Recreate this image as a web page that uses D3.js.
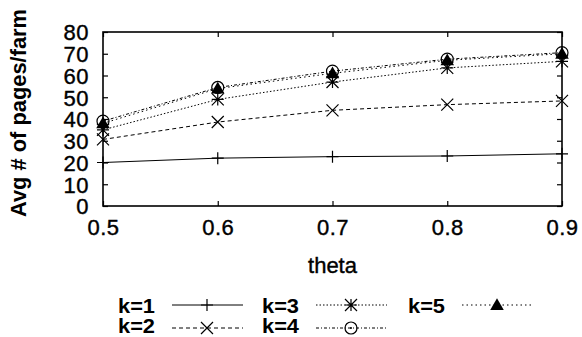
<!DOCTYPE html>
<html>
<head>
<script src="https://d3js.org/d3.v7.min.js"></script>
<style>
  body { margin: 0; background: #fff; }
  text { font-family: "Liberation Sans", Arial, sans-serif; fill: #000; }
</style>
</head>
<body>
<svg id="plot" width="582" height="337"></svg>
<script>
const thetas = [0.5, 0.6, 0.7, 0.8, 0.9];
const k1 = [20, 22, 22.7, 23, 24];
const k2 = [30.6, 38.6, 44, 46.6, 48.3];
const k3 = [35, 49, 57, 63.5, 66.5];
const k4 = [39, 54.5, 62, 67.5, 70.5];
const k5 = [38, 54, 61, 67, 70];
const yTicks = [0, 10, 20, 30, 40, 50, 60, 70, 80];
const seriesNames = ["k=1", "k=2", "k=3", "k=4", "k=5"];

const svg = d3.select('#plot');
const x = d3.scaleLinear().domain([0.5, 0.9]).range([103, 562]);
const y = d3.scaleLinear().domain([0, 80]).range([206, 32]);

const series = [
  {name: seriesNames[0], vals: k1, dash: null, marker: 'plus'},
  {name: seriesNames[1], vals: k2, dash: '4,3', marker: 'cross'},
  {name: seriesNames[2], vals: k3, dash: '1.5,2', marker: 'star'},
  {name: seriesNames[3], vals: k4, dash: '3,2,1,2', marker: 'circle'},
  {name: seriesNames[4], vals: k5, dash: '1.5,3', marker: 'triangle'}
];

// frame
svg.append('rect')
  .attr('x', x(0.5)).attr('y', y(80))
  .attr('width', x(0.9) - x(0.5)).attr('height', y(0) - y(80))
  .attr('fill', 'none').attr('stroke', '#000').attr('stroke-width', 1.6);

// ticks, inside on every side
const leftAxis = svg.append('g').attr('transform', `translate(${x(0.5)},0)`)
  .call(d3.axisLeft(y).tickValues(yTicks).tickSize(-5).tickPadding(14));
const rightAxis = svg.append('g').attr('transform', `translate(${x(0.9)},0)`)
  .call(d3.axisRight(y).tickValues(yTicks).tickSize(-5).tickFormat(''));
const bottomAxis = svg.append('g').attr('transform', `translate(0,${y(0)})`)
  .call(d3.axisBottom(x).tickValues(thetas).tickSize(-5).tickPadding(14).tickFormat(d3.format('.1f')));
const topAxis = svg.append('g').attr('transform', `translate(0,${y(80)})`)
  .call(d3.axisTop(x).tickValues(thetas).tickSize(-5).tickFormat(''));
[leftAxis, rightAxis, bottomAxis, topAxis].forEach(g => {
  g.select('.domain').remove();
  g.selectAll('line').attr('stroke', '#000').attr('stroke-width', 1.2);
  g.selectAll('text').attr('font-size', 22).attr('letter-spacing', 0.5)
    .style('font-family', '"Liberation Sans", Arial, sans-serif')
    .attr('stroke', '#000').attr('stroke-width', 0.4);
});
leftAxis.selectAll('text').attr('dy', '0.36em');
bottomAxis.selectAll('text').attr('dy', '0.68em');

function drawMarker(g, type, cx, cy) {
  const s = 6;
  if (type === 'plus') {
    g.append('path').attr('d', `M${cx-s},${cy}H${cx+s}M${cx},${cy-s}V${cy+s}`)
      .attr('stroke', '#000').attr('stroke-width', 1.2);
  } else if (type === 'cross') {
    g.append('path').attr('d', `M${cx-s},${cy-s}L${cx+s},${cy+s}M${cx-s},${cy+s}L${cx+s},${cy-s}`)
      .attr('stroke', '#000').attr('stroke-width', 1.2);
  } else if (type === 'star') {
    g.append('path').attr('d', `M${cx-s},${cy-s}L${cx+s},${cy+s}M${cx-s},${cy+s}L${cx+s},${cy-s}M${cx-s},${cy}H${cx+s}M${cx},${cy-s}V${cy+s}`)
      .attr('stroke', '#000').attr('stroke-width', 1.2);
  } else if (type === 'circle') {
    g.append('circle').attr('cx', cx).attr('cy', cy).attr('r', 6)
      .attr('fill', 'none').attr('stroke', '#000').attr('stroke-width', 1.2);
    g.append('circle').attr('cx', cx).attr('cy', cy).attr('r', 1).attr('fill', '#000');
  } else if (type === 'triangle') {
    g.append('path').attr('d', d3.symbol(d3.symbolTriangle, 80)()).attr('transform', `translate(${cx},${cy+1})`)
      .attr('fill', '#000');
  }
}

const line = d3.line().x((d, i) => x(thetas[i])).y(d => y(d));
series.forEach(s => {
  const g = svg.append('g');
  g.append('path').datum(s.vals).attr('d', line)
    .attr('fill', 'none').attr('stroke', '#000').attr('stroke-width', 1)
    .attr('stroke-dasharray', s.dash);
  s.vals.forEach((v, i) => drawMarker(g, s.marker, x(thetas[i]), y(v)));
});

// axis titles
svg.append('text')
  .attr('transform', `translate(26,113) rotate(-90)`)
  .attr('text-anchor', 'middle').attr('font-size', 22).attr('font-weight', 'bold')
  .attr('textLength', 208).attr('lengthAdjust', 'spacingAndGlyphs')
  .text('Avg # of pages/farm');
svg.append('text')
  .attr('x', (x(0.5) + x(0.9)) / 2).attr('y', 273)
  .attr('text-anchor', 'middle').attr('font-size', 22)
  .attr('stroke', '#000').attr('stroke-width', 0.4)
  .text('theta');

// legend
const legendPos = [[118, 305, 313], [118, 328, 333], [262, 305, 313], [262, 328, 333], [408, 305, 313]];
series.forEach((s, i) => {
  const [lx, ly, by] = legendPos[i];
  const g = svg.append('g');
  g.append('text').attr('x', lx).attr('y', by).attr('font-size', 20).attr('font-weight', 'bold')
    .attr('textLength', 37).attr('lengthAdjust', 'spacingAndGlyphs').text(s.name);
  g.append('line').attr('x1', lx + 54).attr('x2', lx + 125).attr('y1', ly).attr('y2', ly)
    .attr('stroke', '#000').attr('stroke-width', 1).attr('stroke-dasharray', s.dash);
  drawMarker(g, s.marker, lx + 89, ly);
});
</script>
</body>
</html>
